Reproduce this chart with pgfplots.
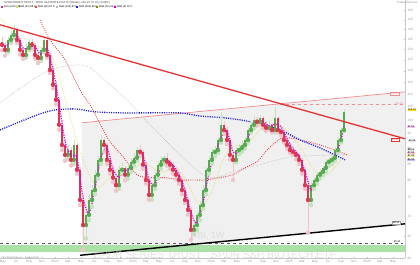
\documentclass[border=0pt]{standalone}
\usepackage{pgfplots}
\pgfplotsset{compat=1.18}
\usepackage{pgfplotstable}
\usepackage{fontspec}
\setmainfont{Liberation Sans}
\definecolor{cG}{RGB}{86,170,80}
\definecolor{cR}{RGB}{222,52,82}
\definecolor{wG}{RGB}{195,228,190}
\definecolor{wR}{RGB}{242,195,203}
\definecolor{trendR}{RGB}{230,50,50}
\definecolor{chanP}{RGB}{240,140,140}
\definecolor{maBlue}{RGB}{30,30,230}
\definecolor{maRed}{RGB}{240,60,70}
\definecolor{maMag}{RGB}{220,0,220}
\definecolor{maYel}{RGB}{222,222,90}
\definecolor{maGray}{RGB}{185,185,185}
\definecolor{regGray}{RGB}{240,240,240}
\definecolor{bandG}{RGB}{170,225,165}
\pgfplotstableread{
x o h l c
2 133.5 136.0 129.5 132.1
5 132.1 133.5 127.0 129.7
8 129.7 136.0 128.5 134.6
11 134.6 139.0 133.0 137.1
14 137.1 142.3 135.5 139.7
17 139.7 140.5 133.0 134.6
20 134.6 135.5 127.5 129.7
23 129.7 131.0 125.5 127.3
26 127.3 132.5 126.0 130.7
29 130.7 135.0 129.5 133.6
32 133.6 135.0 130.0 132.1
35 132.1 133.0 125.5 127.3
38 127.3 128.5 123.5 125.9
41 125.9 131.0 124.5 129.7
44 129.7 136.5 128.5 134.6
47 134.6 135.5 126.0 127.3
50 127.3 128.5 119.0 120.4
53 120.4 122.0 112.5 114.0
56 114.0 115.5 106.0 107.8
59 107.8 109.0 96.5 98.3
62 98.3 100.0 89.5 91.2
65 91.2 93.0 86.0 87.9
68 87.9 91.5 86.5 89.5
71 89.5 90.5 84.5 86.3
74 86.3 93.0 85.0 91.2
77 91.2 92.0 82.0 83.2
80 83.2 84.0 73.0 74.4
83 74.4 75.5 61.8 67.8
86 67.8 71.5 64.5 70.4
89 70.4 76.0 69.0 74.4
92 74.4 78.5 72.5 77.2
95 77.2 83.0 76.0 81.7
98 81.7 87.5 80.5 86.3
101 86.3 94.7 85.0 92.9
104 92.9 94.0 89.0 91.2
107 91.2 92.0 85.0 86.3
110 86.3 87.5 82.0 83.2
113 83.2 84.5 79.5 80.8
116 80.8 81.5 77.0 78.6
119 78.6 84.5 77.5 83.2
122 83.2 85.5 82.0 83.8
125 83.8 84.5 80.0 81.7
128 81.7 85.0 80.5 83.8
131 83.8 87.0 82.5 85.7
134 85.7 88.5 84.5 87.0
137 87.0 90.5 86.0 89.5
140 89.5 91.2 87.5 88.9
143 88.9 89.5 83.5 84.8
146 84.8 85.5 79.0 80.1
149 80.1 81.0 74.5 75.8
152 75.8 79.5 74.5 78.6
155 78.6 82.5 77.5 81.7
158 81.7 86.0 80.5 84.8
161 84.8 87.5 83.5 86.3
164 86.3 88.0 85.0 87.0
167 87.0 88.5 84.5 85.7
170 85.7 86.5 83.5 84.8
173 84.8 85.5 82.0 83.2
176 83.2 84.0 80.5 81.7
179 81.7 82.5 79.0 80.1
182 80.1 81.0 76.0 77.2
185 77.2 78.0 73.5 74.4
188 74.4 75.0 70.5 71.7
191 71.7 72.5 64.2 66.6
194 66.6 69.0 65.5 67.8
197 67.8 71.5 66.5 70.4
200 70.4 74.0 69.0 73.0
203 73.0 78.5 72.0 77.2
206 77.2 84.0 76.0 83.2
209 83.2 87.5 82.0 86.3
212 86.3 90.0 85.0 88.9
215 88.9 91.0 87.5 89.5
218 89.5 94.0 88.5 92.9
221 92.9 103.1 92.0 98.3
224 98.3 99.5 95.0 96.4
227 96.4 97.5 91.5 92.9
230 92.9 93.5 86.5 87.9
233 87.9 89.0 80.1 86.3
236 86.3 90.5 85.5 89.5
239 89.5 91.5 88.0 90.2
242 90.2 92.5 89.0 91.2
245 91.2 94.0 90.0 92.9
248 92.9 97.5 92.0 96.4
251 96.4 99.5 95.5 98.3
254 98.3 101.5 97.0 100.1
257 100.1 101.0 98.0 99.4
260 99.4 102.0 98.5 100.8
263 100.8 101.5 97.0 98.3
266 98.3 99.5 96.0 97.2
269 97.2 99.5 96.5 98.3
272 98.3 99.0 95.5 96.4
275 96.4 105.0 95.5 100.8
278 100.8 101.5 95.5 96.4
281 96.4 97.5 94.5 95.7
284 95.7 96.5 92.0 92.9
287 92.9 94.0 90.0 91.2
290 91.2 92.0 88.5 89.5
293 89.5 91.0 88.0 88.9
296 88.9 89.5 86.5 87.9
299 87.9 88.5 85.0 86.3
302 86.3 87.0 82.0 83.2
305 83.2 84.0 77.5 78.6
308 78.6 79.5 65.9 74.4
311 74.4 79.5 73.0 78.6
314 78.6 81.0 77.5 80.1
317 80.1 82.5 79.0 81.7
320 81.7 83.5 80.5 82.6
323 82.6 84.5 81.5 83.8
326 83.8 86.5 82.5 85.7
329 85.7 87.0 84.5 86.3
332 86.3 88.0 85.0 87.0
335 87.0 90.5 86.0 89.5
338 89.5 93.5 88.5 92.9
341 92.9 97.0 92.0 96.4
344 96.4 104.0 96.0 103.1
}\candles
\begin{document}
\begin{tikzpicture}
\begin{axis}[
  at={(0,0)}, anchor=south west,
  scale only axis, width=405bp, height=258bp,
  xmin=0, xmax=405, ymode=log, ymin=60, ymax=156,
  axis line style={draw=gray!45, line width=0.3pt},
  axis x line*=bottom, axis y line*=right,
  /pgf/number format/assume math mode=true,
  ytick={60,65,70,75,80,85,90,95,100,105,110,115,120,125,130,135,140,145,150},
  yticklabel={\pgfmathparse{exp(\tick)}\pgfmathprintnumber[fixed,precision=0]{\pgfmathresult}},
  yticklabel style={font=\fontsize{3.2}{3.5}\selectfont, text=gray!80, xshift=-1bp},
  xtick={3,16,29,42,55,68,81,94,107,120,133,146,159,172,185,198,211,224,237,250,263,276,289,302,315,328,341,354,367,380,393},
  xticklabels={May,Jul,Sep,Nov,2022,Mar,May,Jul,Sep,Nov,2023,Mar,May,Jul,Sep,Nov,2024,Mar,May,Jul,Sep,Nov,2025,Mar,May,Jul,Sep,Nov,2026,Mar,May},
  xticklabel style={font=\fontsize{3.2}{3.5}\selectfont, text=gray!80, yshift=1.5bp},
  major tick length=1.2bp, tick style={gray!50},
  clip=true,
]
% shaded channel region
\addplot[fill=regGray, draw=none, forget plot] coordinates {(82,99.0) (405,111.0) (405,68.1) (82,60.7)} -- cycle;
% green support band
\addplot[fill=bandG, draw=none, forget plot] coordinates {(0,61.4) (405,61.4) (405,63.0) (0,63.0)} -- cycle;
\addplot[gray!70!black, dashed, line width=0.5bp, forget plot] coordinates {(0,63.4) (405,63.4)};
% channel lines
\addplot[chanP, line width=0.7bp, forget plot] coordinates {(82,99.0) (405,111.0)};
\addplot[chanP, dashed, line width=0.4bp, forget plot] coordinates {(280,106.2) (405,106.2)};
\addplot[black, line width=1.4bp, forget plot] coordinates {(80,60.6) (405,68.1)};
% moving averages
\addplot[maGray, line width=0.45bp, dash pattern=on 0.6bp off 0.8bp, smooth, forget plot] coordinates {
(0,106.6) (25,113.9) (50,120.4) (75,122.6) (90,121.4) (110,113.9) (127,107.8) (150,98.3) (170,91.2) (200,82.3) (215,80.8) (233,82.6) (260,84.8) (293,87.3) (347,87.9)};
\addplot[maYel, line width=0.55bp, dash pattern=on 0.7bp off 0.9bp, smooth, forget plot] coordinates {
(0,146) (10,141) (20,137) (30,133) (40,131) (50,128) (56,122) (62,113) (68,104) (74,96) (80,89) (86,84) (92,80) (98,78) (104,79) (110,81) (116,83) (122,83.5) (128,83) (134,83.5) (140,85) (146,85.5) (152,84) (158,82.5) (164,82.5) (170,83.5) (176,84) (182,82) (188,79) (194,75.5) (200,73) (206,74) (212,77) (218,82) (224,87) (230,90) (236,91) (242,91) (248,92) (254,94) (260,96.5) (266,98) (272,98.5) (278,98) (284,97) (290,95) (296,92.5) (302,89.5) (308,86) (314,83) (320,81) (326,81.5) (332,83) (338,85) (344,88)};
\addplot[maRed, line width=0.9bp, dash pattern=on 0.9bp off 1.3bp, smooth, forget plot] coordinates {
(40,144.9) (50,134.6) (65,125.0) (80,111.8) (90,105.8) (100,98.7) (110,92.3) (123,87.3) (137,81.7) (150,80.8) (165,80.8) (180,80.1) (193,80.1) (205,80.1) (220,80.8) (233,81.7) (245,83.8) (257,85.7) (267,89.5) (275,91.9) (282,93.6) (290,93.6) (300,92.9) (320,91.2) (335,89.5) (347,87.9)};
\addplot[maBlue, line width=1.3bp, dash pattern=on 1.1bp off 1.2bp, smooth, forget plot] coordinates {
(0,96.4) (20,99.4) (40,102.3) (55,103.8) (75,104.2) (95,103.1) (120,102.7) (150,102.7) (180,102.7) (200,101.5) (225,100.8) (250,99.4) (280,96.4) (300,92.9) (320,90.2) (345,86.3)};
% candles: wicks
\addplot[only marks, mark=none, color=wG, forget plot,
  restrict expr to domain={\thisrow{c}-\thisrow{o}}{0:1000},
  error bars/.cd, y dir=plus, y explicit, error mark=none,
  error bar style={line width=0.6bp}]
  table[x=x, y=l, y error expr=\thisrow{h}-\thisrow{l}] {\candles};
\addplot[only marks, mark=none, color=wR, forget plot,
  restrict expr to domain={\thisrow{c}-\thisrow{o}}{-1000:0},
  error bars/.cd, y dir=plus, y explicit, error mark=none,
  error bar style={line width=0.6bp}]
  table[x=x, y=l, y error expr=\thisrow{h}-\thisrow{l}] {\candles};
% candles: bodies
\addplot[only marks, mark=none, color=cG, forget plot,
  restrict expr to domain={\thisrow{c}-\thisrow{o}}{0:1000},
  error bars/.cd, y dir=plus, y explicit, error mark=none,
  error bar style={line width=1.5bp}]
  table[x=x, y=o, y error expr=\thisrow{c}-\thisrow{o}] {\candles};
\addplot[only marks, mark=none, color=cR, forget plot,
  restrict expr to domain={\thisrow{c}-\thisrow{o}}{-1000:0},
  error bars/.cd, y dir=plus, y explicit, error mark=none,
  error bar style={line width=1.5bp}]
  table[x=x, y=c, y error expr=\thisrow{o}-\thisrow{c}] {\candles};
% short moving average
\addplot[maMag, line width=1.25bp, dash pattern=on 1.1bp off 1.3bp, smooth, forget plot] coordinates {
(5,131) (11,133.8) (17,137.1) (23,130.5) (29,130.5) (35,131) (41,127.6) (47,130.5) (53,120.6) (59,106.7) (65,92.5) (71,87.9) (77,86.9) (83,75.1) (89,70.9) (95,77.8) (101,87.0) (107,90.1) (113,83.4) (119,80.9) (125,82.9) (131,83.7) (137,87.4) (143,87.7) (149,80.2) (155,78.7) (161,84.3) (167,86.3) (173,84.6) (179,81.7) (185,77.2) (191,70.9) (197,68.3) (203,73.5) (209,82.2) (215,88.2) (221,93.6) (227,95.9) (233,89.0) (239,88.7) (245,91.4) (251,95.9) (257,99.3) (263,99.5) (269,97.9) (275,98.5) (281,97.6) (287,93.3) (293,89.9) (299,87.7) (305,82.7) (311,77.2) (317,80.1) (323,82.7) (329,85.3) (335,87.6) (341,92.9) (344,97.5)};
% main downtrend line
\addplot[trendR, line width=1.3bp, forget plot] coordinates {(0,142.3) (405,93.3)};
\end{axis}
% watermark
\node[text=gray!40, opacity=0.55, font=\fontsize{9}{9}\selectfont] at (208bp,22bp) {XBI, 1W};
\node[text=gray!40, opacity=0.55, font=\fontsize{10.5}{10.5}\selectfont] at (215bp,3bp) {SPDR SERIES TRUST · SPDR S\&P BIOTECH ETF};
% header
\node[anchor=west, font=\fontsize{2.8}{3}\selectfont, text=black!75, inner sep=0] at (4bp,255bp) {SPDR SERIES TRUST · SPDR S\&P BIOTECH ETF (Weekly) 103.10 +6.70 (+6.95\%)};
\begin{scope}[font=\fontsize{2.6}{3}\selectfont, inner sep=0]
\fill[cR] (1bp,250.2bp) rectangle +(2bp,2bp); \node[anchor=west] at (3.6bp,251.2bp) {Price (103.10)};
\fill[maYel] (16bp,250.2bp) rectangle +(2bp,2bp); \node[anchor=west] at (18.6bp,251.2bp) {SMA (20) 88.0};
\fill[maRed] (35bp,250.2bp) rectangle +(2bp,2bp); \node[anchor=west] at (37.6bp,251.2bp) {SMA (50) 87.9};
\fill[maGray] (56bp,250.2bp) rectangle +(2bp,2bp); \node[anchor=west] at (58.6bp,251.2bp) {SMA (100) 87.9};
\fill[maBlue] (76bp,250.2bp) rectangle +(2bp,2bp); \node[anchor=west] at (78.6bp,251.2bp) {SMA (200) 86.3};
\fill[olive] (96bp,250.2bp) rectangle +(2bp,2bp); \node[anchor=west] at (98.6bp,251.2bp) {SMA (10) 92.9};
\fill[maMag] (114bp,250.2bp) rectangle +(2bp,2bp); \node[anchor=west] at (116.6bp,251.2bp) {SMA (5) 97.5};
\end{scope}
\node[anchor=east, font=\fontsize{2.6}{3}\selectfont, text=gray, inner sep=0] at (418bp,255bp) {ProRealTime.com};
\node[anchor=west, font=\fontsize{2.4}{3}\selectfont, text=gray, inner sep=0] at (1bp,0.5bp) {© ProRealTime.com - Delayed data};
% value tags on the right
\begin{scope}[font=\fontsize{2.6}{3}\selectfont, inner sep=0.5bp]
\node[draw=chanP, text=chanP, fill=white] at (395bp,164bp) {110.98};
\node[text=chanP] at (399bp,154bp) {106.20};
\node[fill=yellow!80!orange, text=black] at (412bp,148bp) {103.10};
\node[fill=maMag!25, text=black] at (411bp,131bp) {97.50};
\node[draw=trendR, text=trendR, fill=white] at (395bp,118bp) {93.30};
\node[fill=gray!20, text=black] at (412bp,117bp) {92.93};
\node[fill=gray!20, text=black] at (411bp,108bp) {88.02};
\node[fill=maRed!30, text=black] at (411bp,105bp) {87.90};
\node[fill=maYel!60, text=black] at (411bp,102bp) {87.30};
\node[fill=maBlue!30, text=black] at (411bp,98bp) {86.30};
\node[draw=gray!70, text=black, fill=white] at (396bp,35bp) {68.10};
\node[fill=white, text=black] at (397bp,16bp) {63.40};
\end{scope}
\pgfresetboundingbox
\path (0,-7bp) rectangle (420bp,258bp);
\end{tikzpicture}
\end{document}
